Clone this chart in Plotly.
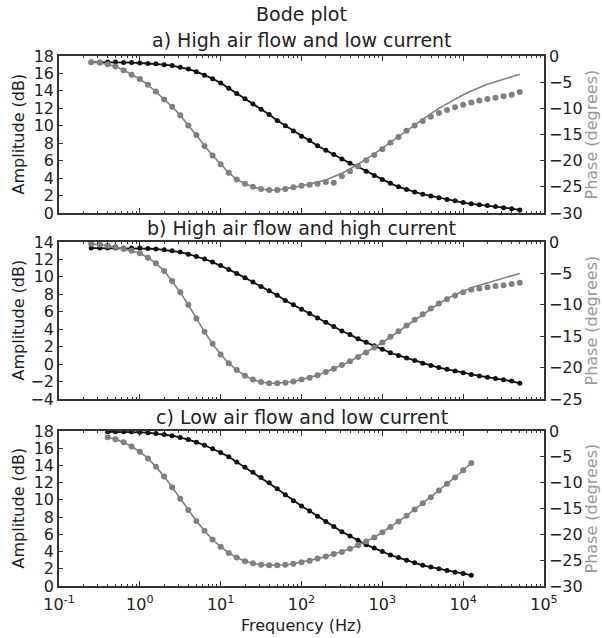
import plotly.graph_objects as go

# ---------------- data ----------------
freq_ab = [0.25, 0.32, 0.4, 0.5, 0.63, 0.79, 1.0, 1.26, 1.58, 2.0, 2.51, 3.16, 3.98, 5.01,
           6.31, 7.94, 10, 12.6, 15.8, 20, 25.1, 31.6, 39.8, 50.1, 63.1, 79.4, 100, 126,
           158, 200, 251, 316, 398, 501, 631, 794, 1000, 1259, 1585, 1995, 2512, 3162,
           3981, 5012, 6310, 7943, 10000, 12589, 15849, 19953, 25119, 31623, 39811, 50119]

freq_c = [0.4, 0.5, 0.63, 0.79, 1.0, 1.26, 1.58, 2.0, 2.51, 3.16, 3.98, 5.01, 6.31, 7.94,
          10, 12.6, 15.8, 20, 25.1, 31.6, 39.8, 50.1, 63.1, 79.4, 100, 126, 158, 200, 251,
          316, 398, 501, 631, 794, 1000, 1259, 1585, 1995, 2512, 3162, 3981, 5012, 6310,
          7943, 10000, 12589]

# a) High air flow and low current
amp_a = [17.3, 17.3, 17.3, 17.3, 17.25, 17.25, 17.2, 17.15, 17.1, 17.0, 16.9, 16.7, 16.5,
         16.2, 15.8, 15.4, 14.9, 14.3, 13.7, 13.1, 12.5, 11.9, 11.3, 10.6, 10.0, 9.4, 8.8,
         8.3, 7.7, 7.2, 6.7, 6.2, 5.7, 5.3, 4.8, 4.3, 3.85, 3.4, 3.0, 2.7, 2.4, 2.15, 1.95,
         1.75, 1.55, 1.4, 1.2, 1.05, 0.95, 0.85, 0.75, 0.6, 0.5, 0.35]
phase_a = [-1.2, -1.3, -1.6, -2.0, -2.7, -3.6, -4.4, -5.5, -6.8, -8.3, -9.7, -11.3, -13.3,
           -15.1, -17.2, -19.0, -20.7, -22.3, -23.6, -24.4, -25.0, -25.4, -25.6, -25.6,
           -25.4, -25.1, -24.8, -24.6, -24.4, -24.1, -24.2, -23.0, -22.0, -21.0, -19.9,
           -18.9, -17.8, -16.6, -15.5, -14.3, -13.3, -12.4, -11.6, -10.9, -10.3, -9.8,
           -9.3, -8.9, -8.5, -8.2, -8.0, -7.7, -7.4, -6.9]
phase_fit_a = [-1.2, -1.3, -1.6, -2.0, -2.7, -3.6, -4.4, -5.5, -6.8, -8.3, -9.7, -11.3,
               -13.3, -15.1, -17.2, -19.0, -20.7, -22.3, -23.6, -24.4, -25.0, -25.4, -25.6,
               -25.6, -25.4, -25.1, -24.8, -24.5, -24.1, -23.7, -23.1, -22.4, -21.6, -20.7,
               -19.7, -18.7, -17.6, -16.5, -15.3, -14.2, -13.1, -12.0, -11.0, -10.0, -9.1,
               -8.2, -7.4, -6.7, -6.0, -5.4, -4.9, -4.4, -3.9, -3.5]

# b) High air flow and high current
amp_b = [13.3, 13.3, 13.3, 13.3, 13.3, 13.3, 13.3, 13.25, 13.2, 13.1, 13.0, 12.85, 12.6,
         12.35, 12.05, 11.7, 11.3, 10.85, 10.4, 9.9, 9.4, 8.9, 8.4, 7.9, 7.3, 6.8, 6.3,
         5.8, 5.3, 4.8, 4.3, 3.8, 3.4, 2.9, 2.5, 2.1, 1.7, 1.3, 1.0, 0.7, 0.4, 0.1, -0.15,
         -0.4, -0.6, -0.8, -1.0, -1.2, -1.35, -1.5, -1.65, -1.8, -1.95, -2.2]
phase_b = [-0.3, -0.4, -0.6, -0.8, -1.1, -1.4, -1.8, -2.5, -3.4, -4.6, -6.2, -8.0, -10.0,
           -12.2, -14.3, -16.2, -17.9, -19.3, -20.4, -21.3, -21.9, -22.3, -22.5, -22.5,
           -22.4, -22.2, -21.9, -21.6, -21.2, -20.7, -20.2, -19.6, -19.0, -18.3, -17.6,
           -16.8, -16.0, -15.1, -14.2, -13.3, -12.4, -11.5, -10.6, -9.8, -9.1, -8.5, -8.0,
           -7.6, -7.4, -7.2, -7.0, -6.9, -6.7, -6.5]
phase_fit_b = [-0.3, -0.4, -0.6, -0.8, -1.1, -1.4, -1.8, -2.5, -3.4, -4.6, -6.2, -8.0,
               -10.0, -12.2, -14.3, -16.2, -17.9, -19.3, -20.4, -21.3, -21.9, -22.3, -22.5,
               -22.5, -22.4, -22.2, -21.9, -21.6, -21.2, -20.7, -20.2, -19.6, -19.0, -18.3,
               -17.6, -16.8, -16.0, -15.1, -14.2, -13.3, -12.4, -11.5, -10.6, -9.8, -9.0,
               -8.4, -7.8, -7.3, -6.9, -6.5, -6.1, -5.7, -5.4, -5.0]

# c) Low air flow and low current
amp_c = [17.9, 17.9, 17.9, 17.9, 17.85, 17.8, 17.7, 17.6, 17.45, 17.25, 17.0, 16.7, 16.35,
         15.95, 15.5, 15.0, 14.4, 13.8, 13.2, 12.6, 12.0, 11.3, 10.6, 9.9, 9.3, 8.7, 8.1,
         7.5, 6.9, 6.3, 5.8, 5.3, 4.8, 4.4, 4.0, 3.6, 3.3, 3.0, 2.7, 2.4, 2.2, 2.0, 1.8,
         1.6, 1.45, 1.25]
phase_c = [-1.2, -1.6, -2.2, -3.0, -4.0, -5.3, -6.9, -8.8, -10.9, -13.1, -15.3, -17.4,
           -19.3, -21.0, -22.4, -23.6, -24.5, -25.2, -25.6, -25.9, -26.0, -26.0, -25.9,
           -25.7, -25.4, -25.1, -24.7, -24.3, -23.8, -23.4, -22.8, -22.1, -21.4, -20.6,
           -19.6, -18.6, -17.5, -16.4, -15.2, -14.0, -12.8, -11.5, -10.2, -9.0, -7.6, -6.2]

titles = ["a) High air flow and low current",
          "b) High air flow and high current",
          "c) Low air flow and low current"]
x_tickvals = [0.1, 1, 10, 100, 1000, 10000, 100000]
x_ticktext = ["10<sup>-1</sup>", "10<sup>0</sup>", "10<sup>1</sup>", "10<sup>2</sup>",
              "10<sup>3</sup>", "10<sup>4</sup>", "10<sup>5</sup>"]

# ---------------- styling ----------------
FONT = "DejaVu Sans"
BLACK = "#111111"
GREY = "#808080"
AXC = "#333333"
TXT = "#222222"
TICK = 16
W, H = 602, 638
ML, MR, MT, MB = 59, 58, 56, 52
PW = W - ML - MR
PH = H - MT - MB


def py(pix):
    return (H - MB - pix) / PH


def px(pix):
    return (pix - ML) / PW


panel_pix = [(56, 213), (242, 399), (431, 586)]
domains = [[py(b), py(t)] for t, b in panel_pix]
left_ranges = [[0, 18], [-4, 14], [0, 18]]
right_ranges = [[-30, 0], [-25, 0], [-30, 0]]

minor_vals = [m * 10 ** e for e in range(-1, 5) for m in range(2, 10)]

fig = go.Figure()

panels = [
    (freq_ab, amp_a, phase_a, phase_fit_a),
    (freq_ab, amp_b, phase_b, phase_fit_b),
    (freq_c, amp_c, phase_c, phase_c),
]

for i, (f, amp, ph, phfit) in enumerate(panels):
    xa = "x" if i == 0 else f"x{i + 1}"
    yl = "y" if i == 0 else f"y{2 * i + 1}"
    yr = f"y{2 * i + 2}"
    fig.add_trace(go.Scatter(x=f, y=phfit, mode="lines", xaxis=xa, yaxis=yr,
                             line=dict(color=GREY, width=1.6), showlegend=False))
    fig.add_trace(go.Scatter(x=f, y=ph, mode="markers", xaxis=xa, yaxis=yr,
                             marker=dict(color=GREY, size=6), showlegend=False))
    fig.add_trace(go.Scatter(x=f, y=amp, mode="lines", xaxis=xa, yaxis=yl,
                             line=dict(color=BLACK, width=1.8), showlegend=False))
    fig.add_trace(go.Scatter(x=f, y=amp, mode="markers", xaxis=xa, yaxis=yl,
                             marker=dict(color=BLACK, size=5), showlegend=False))

layout = dict(
    width=W, height=H,
    margin=dict(l=ML, r=MR, t=MT, b=MB),
    paper_bgcolor="white", plot_bgcolor="white",
    font=dict(family=FONT, size=TICK, color=TXT),
    showlegend=False,
)

for i in range(3):
    xk = "xaxis" if i == 0 else f"xaxis{i + 1}"
    ylk = "yaxis" if i == 0 else f"yaxis{2 * i + 1}"
    yrk = f"yaxis{2 * i + 2}"
    yl_name = "y" if i == 0 else f"y{2 * i + 1}"
    x_name = "x" if i == 0 else f"x{i + 1}"
    layout[xk] = dict(
        type="log", range=[-1, 5], domain=[0, 1], anchor=yl_name,
        tickvals=x_tickvals, ticktext=x_ticktext,
        showticklabels=(i == 2), ticklabelstandoff=3,
        ticks="inside", ticklen=5, tickwidth=1, tickcolor=AXC,
        minor=dict(tickvals=minor_vals, ticks="inside", ticklen=2.5, tickwidth=1,
                   tickcolor=AXC, showgrid=False),
        showline=True, linecolor=AXC, linewidth=1.5, mirror="ticks",
        showgrid=False, zeroline=False,
        tickfont=dict(size=TICK, family=FONT, color=TXT),
    )
    layout[ylk] = dict(
        domain=domains[i], range=left_ranges[i], dtick=2, anchor=x_name,
        ticks="inside", ticklen=4, tickwidth=1, tickcolor=AXC,
        showline=True, linecolor=AXC, linewidth=1.5,
        showgrid=False, zeroline=False,
        tickfont=dict(size=TICK, family=FONT, color=TXT),
    )
    layout[yrk] = dict(
        range=right_ranges[i], dtick=5, overlaying=yl_name, side="right", anchor=x_name,
        ticks="inside", ticklen=4, tickwidth=1, tickcolor=AXC,
        showline=True, linecolor=AXC, linewidth=1.5,
        showgrid=False, zeroline=False,
        tickfont=dict(size=TICK, family=FONT, color=TXT),
    )

annotations = [dict(text="Bode plot", x=0.5, y=py(14), xref="paper", yref="paper",
                    showarrow=False, xanchor="center", yanchor="middle",
                    font=dict(size=19, family=FONT, color=TXT))]
for t, pyv in zip(titles, [40, 228, 417]):
    annotations.append(dict(text=t, x=0.5, y=py(pyv), xref="paper", yref="paper",
                            showarrow=False, xanchor="center", yanchor="middle",
                            font=dict(size=19, family=FONT, color=TXT)))
for (t, b) in panel_pix:
    mid = py((t + b) / 2)
    annotations.append(dict(text="Amplitude (dB)", x=px(18), y=mid, xref="paper",
                            yref="paper", showarrow=False, textangle=-90,
                            xanchor="center", yanchor="middle",
                            font=dict(size=16, family=FONT, color=TXT)))
    annotations.append(dict(text="Phase (degrees)", x=px(591), y=mid, xref="paper",
                            yref="paper", showarrow=False, textangle=-90,
                            xanchor="center", yanchor="middle",
                            font=dict(size=16, family=FONT, color="#999999")))
annotations.append(dict(text="Frequency (Hz)", x=0.5, y=py(625), xref="paper",
                        yref="paper", showarrow=False, xanchor="center", yanchor="middle",
                        font=dict(size=16, family=FONT, color=TXT)))
layout["annotations"] = annotations

fig.update_layout(**layout)
fig.write_html("out.html", config={"displayModeBar": False},
               post_script="document.body.style.margin='0';document.body.style.padding='0';")
